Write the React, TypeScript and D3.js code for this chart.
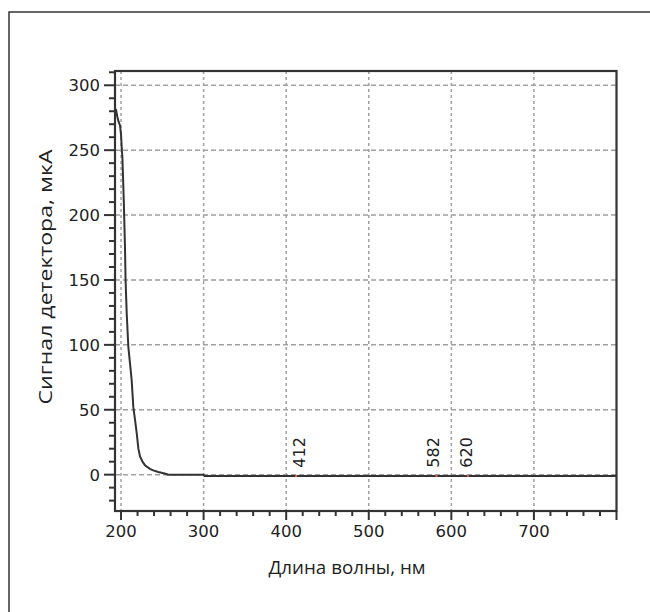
import React from "react";
import * as d3 from "d3";

// Spectrum: wavelength (nm) vs detector signal (µA)
const wavelength = [192.7, 194, 195.5, 197, 198.8, 200, 201, 201.6, 202.5, 203.3, 204, 204.8, 205.5, 206.9, 208.9, 211, 212.9, 214.9, 217, 219, 221, 223, 226, 229, 235, 239, 245, 249, 255, 257, 300, 301, 800];
const signal = [282, 281, 276, 272, 269, 262, 250, 245, 228, 212, 195, 175, 150, 124, 98, 85, 72.7, 52, 42, 32, 20, 14, 10, 7.3, 4.5, 3.3, 2, 1.4, 0.5, 0, 0, -1, -1];

const xTicks = [200, 300, 400, 500, 600, 700];
const yTicks = [0, 50, 100, 150, 200, 250, 300];
const xMinor = d3.range(200, 801, 20);
const yMinor = d3.range(-20, 311, 10);

const peakWavelengths = [412, 582, 620];
const peakLabels = ["412", "582", "620"];
const peakLabelDx = [9, 3, 4.5];

const xTitle = "Длина волны, нм";
const yTitle = "Сигнал детектора, мкА";

export default function App() {
  const left = 115, right = 616.5, top = 71, bottom = 511;
  const x = d3.scaleLinear().domain([192.7, 800]).range([left, right]);
  const y = d3.scaleLinear().domain([-28, 311]).range([bottom, top]);
  const data = wavelength.map((w, i) => [w, signal[i]] as [number, number]);
  const line = d3.line<[number, number]>().x(d => x(d[0])).y(d => y(d[1]));
  const axisColor = "#333";
  const gridColor = "#a0a0a0";
  const interp = d3.scaleLinear().domain(wavelength).range(signal);

  return (
    <div style={{ position: "absolute", left: 0, top: 0 }}>
      <svg width={650} height={612} style={{ display: "block", background: "#fff" }}>
        {/* outer frame */}
        <rect x={9} y={12} width={700} height={700} fill="none" stroke="#333" strokeWidth={1.5} />
        {/* grid */}
        {yTicks.map(t => (
          <line key={"gy" + t} x1={left} x2={right} y1={y(t)} y2={y(t)} stroke={gridColor} strokeWidth={1.5} strokeDasharray="5,3" />
        ))}
        {xTicks.map(t => (
          <line key={"gx" + t} x1={x(t)} x2={x(t)} y1={top} y2={bottom} stroke={gridColor} strokeWidth={1.5} strokeDasharray="3,3" />
        ))}
        {/* curve */}
        <path d={line(data) || ""} fill="none" stroke="#333" strokeWidth={2} />
        {/* peak markers */}
        {peakWavelengths.map((p, i) => (
          <g key={"pk" + p}>
            <line x1={x(p) - 1} x2={x(p) + 1} y1={y(interp(p))} y2={y(interp(p))} stroke="#e8603c" strokeWidth={2} />
            <text
              transform={`translate(${x(p) + peakLabelDx[i]},${y(0) - 7}) rotate(-90)`}
              fontFamily="DejaVu Sans" fontSize={16} fill="#222" textAnchor="start"
            >{peakLabels[i]}</text>
          </g>
        ))}
        {/* frame */}
        <rect x={left} y={top} width={right - left} height={bottom - top} fill="none" stroke={axisColor} strokeWidth={2.2} />
        {/* y ticks */}
        {yMinor.map(t => {
          const major = t % 50 === 0;
          return <line key={"ty" + t} x1={left - (major ? 11 : 6)} x2={left} y1={y(t)} y2={y(t)} stroke={axisColor} strokeWidth={2} />;
        })}
        {/* x ticks */}
        {xMinor.map(t => {
          const major = t % 100 === 0;
          return <line key={"tx" + t} x1={x(t)} x2={x(t)} y1={bottom} y2={bottom + (major ? 9 : 5)} stroke={axisColor} strokeWidth={2} />;
        })}
        {/* tick labels */}
        {yTicks.map(t => (
          <text key={"ly" + t} x={100} y={y(t) + 6} textAnchor="end" fontFamily="DejaVu Sans" fontSize={16.5} fill="#222">{t}</text>
        ))}
        {xTicks.map(t => (
          <text key={"lx" + t} x={x(t)} y={537} textAnchor="middle" fontFamily="DejaVu Sans" fontSize={16.5} fill="#222">{t}</text>
        ))}
        {/* axis titles */}
        <text x={347} y={574} textAnchor="middle" fontFamily="Open Sans" fontSize={17.5} fill="#222"
          textLength={157} lengthAdjust="spacingAndGlyphs">{xTitle}</text>
        <text transform={`translate(52,277) rotate(-90)`} textAnchor="middle" fontFamily="Open Sans" fontSize={18} fill="#222"
          textLength={255} lengthAdjust="spacingAndGlyphs">{yTitle}</text>
      </svg>
    </div>
  );
}
